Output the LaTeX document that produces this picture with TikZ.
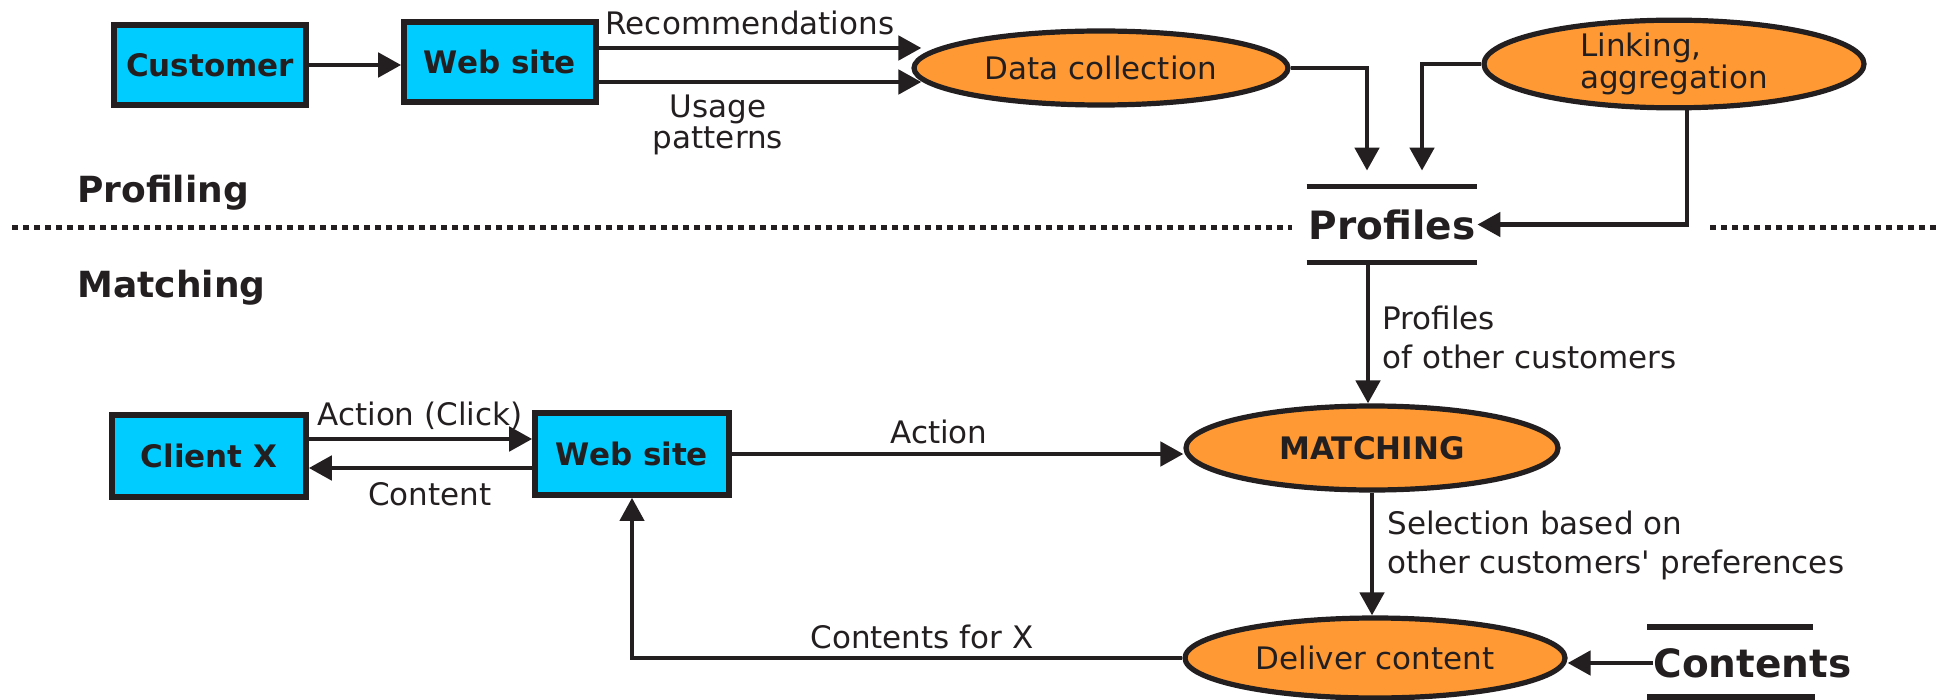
\documentclass[tikz,border=0pt]{standalone}
\usepackage{fontspec}
\setmainfont{DejaVu Sans}
\usetikzlibrary{arrows.meta,shapes.geometric,calc}
\definecolor{boxcyan}{RGB}{0,204,255}
\definecolor{procorange}{RGB}{255,153,51}
\definecolor{ink}{RGB}{35,31,32}

\begin{document}
\begin{tikzpicture}[x=0.5pt,y=-0.5pt,
  every node/.style={text=ink, inner sep=0pt},
  entity/.style={draw=ink, line width=2.8pt, fill=boxcyan,
    minimum width=96pt, minimum height=40pt,
    font=\fontsize{15.5}{18}\selectfont\bfseries},
  process/.style={ellipse, draw=ink, line width=2.6pt, fill=procorange,
    font=\fontsize{15.5}{18}\selectfont},
  store/.style={font=\fontsize{19.5}{22}\selectfont\bfseries},
  lbl/.style={font=\fontsize{15.5}{19.5}\selectfont, align=left},
  section/.style={font=\fontsize{18}{21}\selectfont\bfseries, anchor=west},
  flow/.style={draw=ink, line width=2.4pt, -{Triangle[length=11.5pt,width=12pt]}},
  bar/.style={draw=ink, line width=2.8pt},
  divider/.style={draw=ink, line width=2.5pt, dash pattern=on 3pt off 2.5pt},
]
\useasboundingbox (0,0) rectangle (1937,700);

% ---------- profiling ----------
\node[entity] (cust) at (210,65) {Customer};
\node[entity] (web1) at (500,62) {Web site};
\node[process, minimum width=187pt, minimum height=37pt] (collect) at (1101,68) {Data collection};
\node[process, minimum width=190pt, minimum height=42pt, align=left,
      font=\fontsize{15.5}{12.5}\selectfont] (link) at (1674,64) {Linking,\\aggregation};

\node[store, minimum width=85pt, minimum height=37.5pt] (prof) at (1392,224.5) {Profiles};
\draw[bar] (prof.north west) -- (prof.north east);
\draw[bar] (prof.south west) -- (prof.south east);

\draw[flow] (cust.east) -- (cust.east -| web1.west);
\coordinate (recA) at ($(web1.east)+(0,-14)$);
\coordinate (useA) at ($(web1.east)+(0,20)$);
\draw[flow] (recA) -- ($(recA -| collect.west)+(10,0)$);
\draw[flow] (useA) -- ($(useA -| collect.west)+(10,0)$);
\node[lbl] (recL) at (750,23) {Recommendations};
\node[lbl, align=center, font=\fontsize{15.5}{15.5}\selectfont] (useL) at (718,125) {Usage\\patterns};

\draw[flow] (collect.east) -| ($(prof.north)+(-25,-16)$);
\draw[flow] (link.west) -| ($(prof.north)+(30,-16)$);
\draw[flow] ($(link.south)+(13,0)$) |- (prof.east);

% ---------- section divider ----------
\node[section] (profiling) at (77,193) {Profiling};
\node[section] (matching) at (77,288) {Matching};
\coordinate (divA) at (12,228);
\coordinate (divB) at (1292,228);
\coordinate (divC) at (1710,228);
\coordinate (divD) at (1937,228);
\draw[divider] (divA) -- (divB);
\draw[divider] (divC) -- (divD);

% ---------- matching ----------
\node[entity, minimum width=97pt, minimum height=41pt] (client) at (209,456) {Client X};
\node[entity, minimum width=97pt, minimum height=41pt] (web2) at (632,454) {Web site};
\node[process, minimum width=186pt, minimum height=42pt, font=\fontsize{15.5}{18}\selectfont\bfseries] (match) at (1372,448) {MATCHING};
\node[process, minimum width=190pt, minimum height=40pt] (deliver) at (1375,658) {Deliver content};

\node[store, anchor=west] (cont) at (1653,663) {Contents};
\draw[bar] ($(cont.west)+(-6,-36)$) -- ++(166,0);
\draw[bar] ($(cont.west)+(-6,34)$) -- ++(168,0);

\coordinate (pm) at ($(prof.south)+(-24,0)$);
\draw[flow] (pm) -- (pm |- match.north);
\node[lbl, anchor=west] (othL) at (1382,337) {Profiles\\of other customers};

\coordinate (actA) at ($(client.east)+(0,-17)$);
\coordinate (conA) at ($(web2.west)+(0,14)$);
\draw[flow] (actA) -- (actA -| web2.west);
\draw[flow] (conA) -- (conA -| client.east);
\node[lbl] (actL) at (420,416) {Action (Click)};
\node[lbl] (conL) at (430,494) {Content};

\draw[flow] (web2.east) -- (web2.east -| match.west);
\node[lbl] (actionL) at (939,432) {Action};

\draw[flow] (match.south) -- (match.south |- deliver.north);
\node[lbl, anchor=west] (selL) at (1387,545) {Selection based on\\other customers\textquotesingle\ preferences};

\draw[flow] (cont.west) -- (cont.west -| deliver.east);
\draw[flow, line width=2pt] (deliver.west) -| (web2.south);
\node[lbl] (forL) at (922,637) {Contents for X};
\end{tikzpicture}
\end{document}
